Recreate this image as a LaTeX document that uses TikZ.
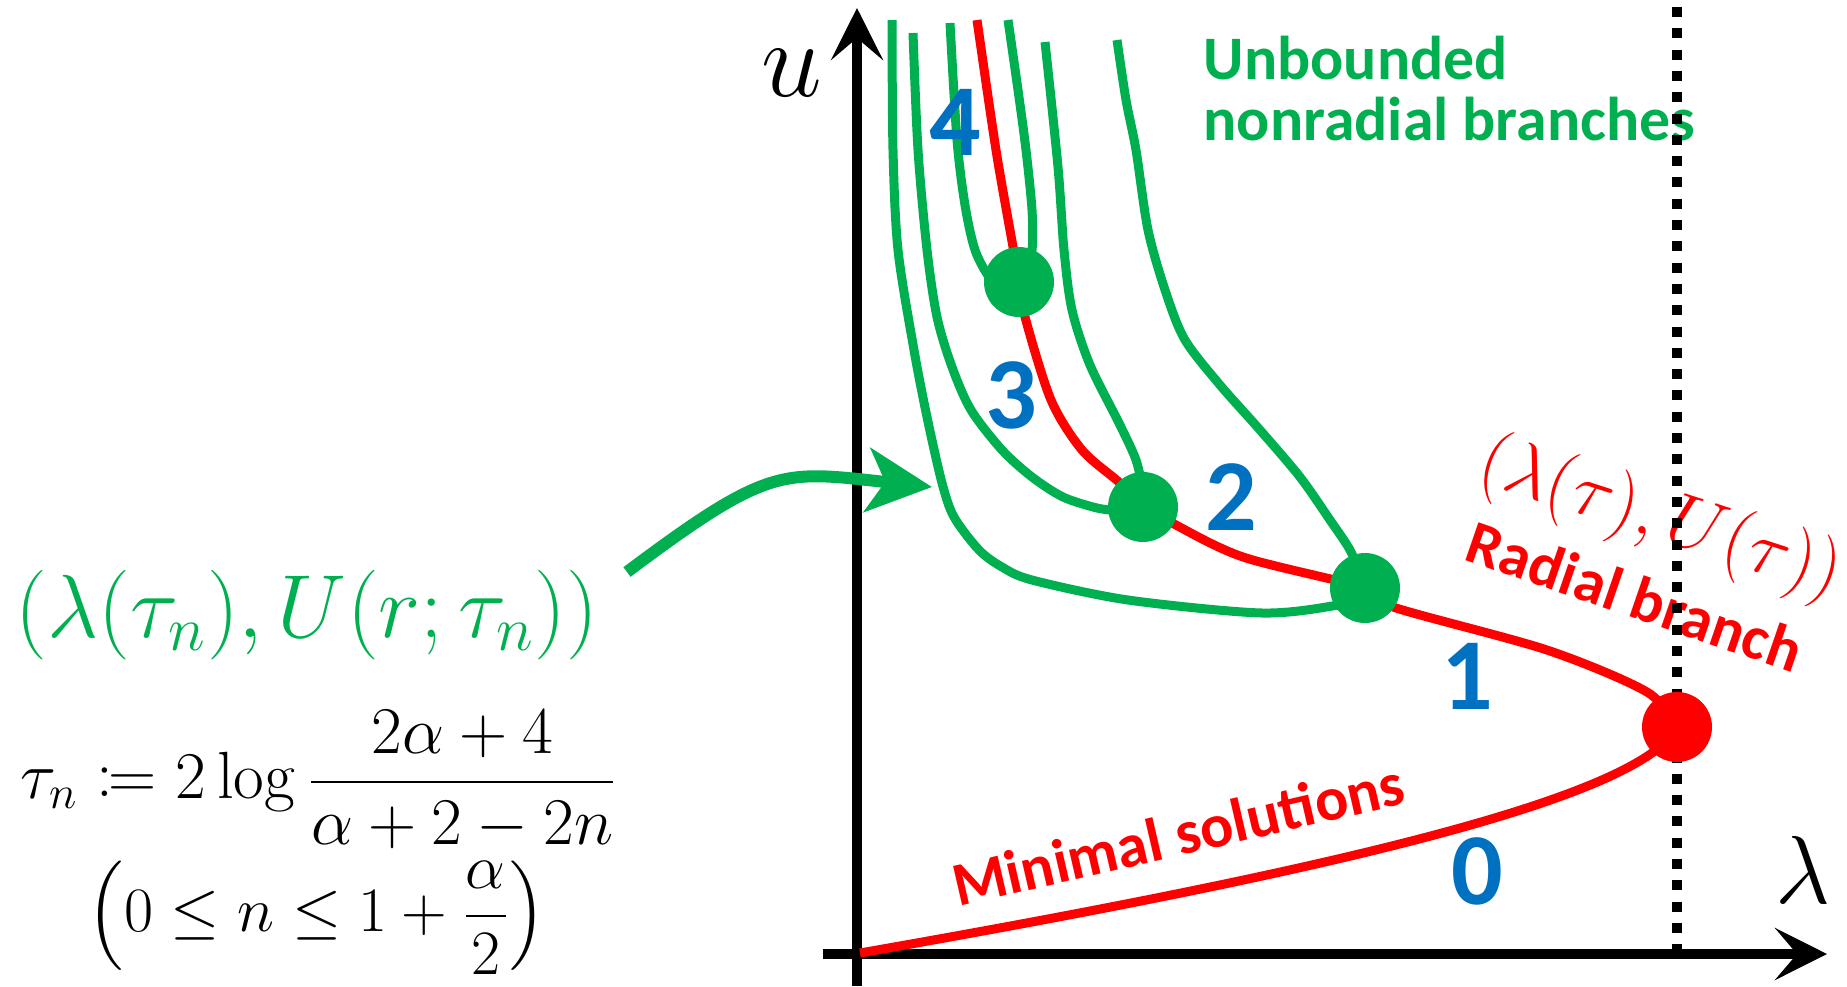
\RequirePackage{fix-cm}
\documentclass[tikz,border=0pt]{standalone}
\usepackage{mathtools}
\usepackage[no-math]{fontspec}
\setmainfont{Carlito}
\usetikzlibrary{arrows.meta}
\definecolor{branchGreen}{HTML}{00B050}
\definecolor{radRed}{HTML}{FF0000}
\definecolor{numBlue}{HTML}{0070C0}
\tikzset{
    axisline/.style={line width=1mm,-{Stealth[length=5.2mm,width=5.2mm,inset=2.2mm]}},
    radialline/.style={draw=radRed,line width=0.9mm},
    branchline/.style={draw=branchGreen,line width=0.9mm},
    greenarrow/.style={draw=branchGreen,line width=1.2mm,
        -{Stealth[length=6.5mm,width=6.4mm,inset=1.8mm]}},
    limitline/.style={line width=1mm,dash pattern=on 1mm off 1.13mm},
    gdot/.style={circle,fill=branchGreen,minimum size=7mm,inner sep=0pt},
    rdot/.style={circle,fill=radRed,minimum size=7mm,inner sep=0pt},
    numlabel/.style={text=numBlue,font=\fontsize{29}{29}\selectfont\bfseries,inner sep=0pt},
    txtlabel/.style={font=\fontsize{17.6}{17.4}\selectfont\bfseries,inner sep=0pt}
}
\begin{document}
\begin{tikzpicture}
    \useasboundingbox (0,0) rectangle (18.47,9.86);

    % axes
    \coordinate (yBot) at (8.57,0);
    \coordinate (yTop) at (8.57,9.78);
    \coordinate (xLeft) at (8.23,0.32);
    \coordinate (xRight) at (18.27,0.32);
    \draw[axisline] (yBot) -- (yTop);
    \draw[axisline] (xLeft) -- (xRight);

    \node[font=\fontsize{31}{31}\selectfont,inner sep=0pt] (uLbl) at (7.92,9.13) {$u$};
    \node[font=\fontsize{27.5}{28}\selectfont,inner sep=0pt] (lamLbl) at (18.03,1.16) {$\lambda$};

    % arrow to the nonradial branch
    \coordinate (arrStart) at (6.27,4.14);
    \coordinate (arrEnd) at (9.32,4.99);
    \draw[greenarrow] (arrStart) .. controls (7.71,5.22) and (7.83,5.15) .. (arrEnd);

    % nonradial branches
    \draw[branchline] plot[smooth] coordinates {(8.92,9.66) (8.93,8.36) (8.98,7.36)
        (9.14,6.36) (9.27,5.69) (9.42,5.03) (9.54,4.69) (9.79,4.36) (10.02,4.19)
        (10.32,4.06) (11.28,3.86) (12.62,3.73) (13.38,3.81) (13.60,3.89)};
    \draw[branchline] plot[smooth] coordinates {(9.13,9.53) (9.18,8.36) (9.27,7.36)
        (9.37,6.69) (9.52,6.19) (9.71,5.76) (10.02,5.36) (10.32,5.09) (10.63,4.89)
        (10.97,4.78) (11.20,4.75)};
    \draw[branchline] plot[smooth] coordinates {(9.50,9.63) (9.57,8.46) (9.65,7.81)
        (9.75,7.36) (9.90,7.08) (10.05,7.00)};
    \draw[branchline] plot[smooth] coordinates {(10.08,9.66) (10.18,8.96) (10.26,8.36)
        (10.32,7.76) (10.32,7.36) (10.25,7.16)};
    \draw[branchline] plot[smooth] coordinates {(10.45,9.44) (10.58,8.19) (10.64,7.36)
        (10.72,6.76) (10.90,6.21) (11.20,5.61) (11.36,5.26) (11.43,4.96)};
    \draw[branchline] plot[smooth] coordinates {(11.17,9.46) (11.26,8.86) (11.36,8.36)
        (11.48,7.56) (11.66,6.93) (11.85,6.46) (12.20,6.01) (12.60,5.56) (13.00,5.09)
        (13.30,4.66) (13.50,4.36) (13.60,4.11)};

    % radial branch
    \coordinate (orig) at (8.60,0.33);
    \coordinate (turn) at (16.77,2.59);
    \draw[radialline] (orig) .. controls (13.0,1.10) and (16.4,1.85) .. (turn);
    \draw[radialline] plot[smooth] coordinates {(16.77,2.59) (16.47,2.94) (15.47,3.36)
        (13.93,3.79) (13.65,3.98) (12.43,4.29) (11.72,4.63) (11.43,4.79) (11.20,5.03)
        (10.82,5.36) (10.51,5.86) (10.25,6.69) (10.19,7.04) (10.13,7.39) (9.96,8.36)
        (9.77,9.66)};

    % labels
    \node[numlabel] (num4) at (9.55,8.64) {4};
    \node[numlabel] (num3) at (10.11,5.91) {3};
    \node[numlabel] (num2) at (12.31,4.89) {2};
    \node[numlabel] (num1) at (14.67,3.10) {1};
    \node[numlabel] (num0) at (14.77,1.15) {0};

    \node[txtlabel,text=branchGreen,align=left,anchor=north west] (unbLbl) at (12.03,9.51)
        {Unbounded\\nonradial branches};
    \node[txtlabel,text=radRed,rotate=-19,anchor=base] (radLbl) at (16.28,3.70) {Radial branch};
    \node[text=radRed,font=\fontsize{21.5}{22}\selectfont,rotate=-18,inner sep=0pt] (radMath)
        at (16.60,4.66) {$(\lambda(\tau),U(\tau))$};
    \node[txtlabel,text=radRed,rotate=13,anchor=base] (minLbl) at (11.83,1.31) {Minimal solutions};

    \node[text=branchGreen,font=\fontsize{25.5}{26}\selectfont,anchor=base,inner sep=0pt] (tauLbl)
        at (3.07,3.49) {$(\lambda(\tau_n),U(r;\tau_n))$};
    \node[font=\fontsize{19}{19}\selectfont,inner sep=0pt] (tauDef) at (3.19,2.06)
        {$\displaystyle\tau_n\coloneqq 2\log\frac{2\alpha+4}{\alpha+2-2n}$};
    \node[font=\fontsize{18}{18}\selectfont,inner sep=0pt] (tauRange) at (3.17,0.68)
        {$\displaystyle\left(0\le n\le 1+\frac{\alpha}{2}\right)$};

    % limit of lambda
    \coordinate (limTop) at (16.77,9.79);
    \coordinate (limBot) at (16.77,0.37);
    \draw[limitline] (limTop) -- (limBot);

    % bifurcation points
    \node[gdot] (dotA) at (10.19,7.04) {};
    \node[gdot] (dotB) at (11.43,4.79) {};
    \node[gdot] (dotC) at (13.65,3.98) {};
    \node[rdot] (dotR) at (16.77,2.59) {};
\end{tikzpicture}
\end{document}
